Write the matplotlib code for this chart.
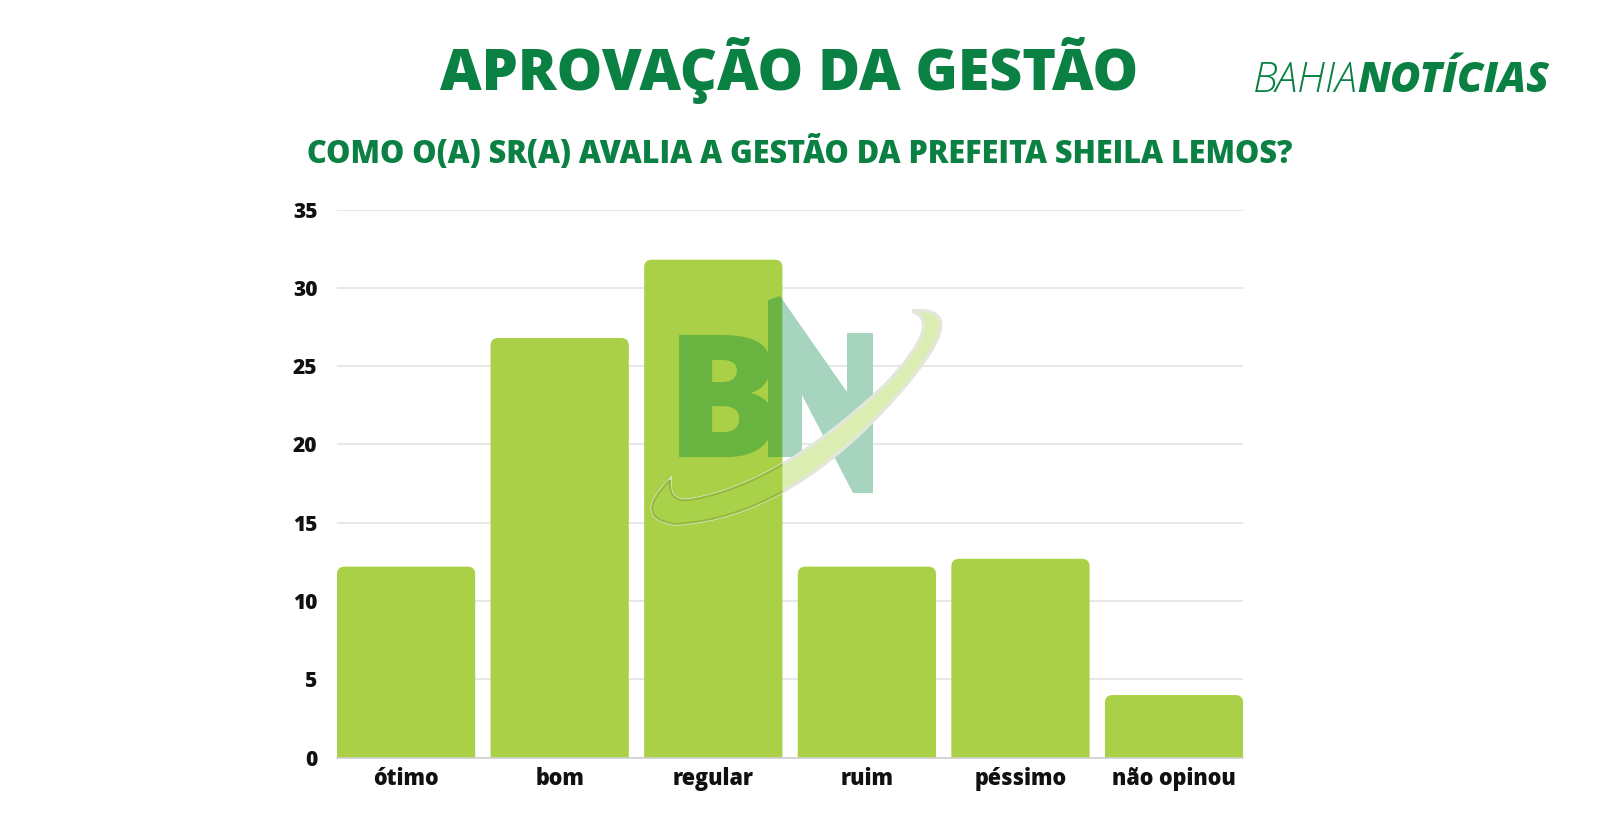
import numpy as np
import matplotlib.pyplot as plt
from matplotlib.patches import FancyBboxPatch, Polygon, PathPatch
from matplotlib.path import Path

# Data
categories = ['ótimo', 'bom', 'regular', 'ruim', 'péssimo', 'não opinou']
values = [12.2, 26.8, 31.8, 12.2, 12.7, 4.0]
yticks = [0, 5, 10, 15, 20, 25, 30, 35]

green = '#0a8043'
bar_color = '#a9d046'
W, H = 1600, 840

plt.rcParams['font.family'] = ['Open Sans', 'DejaVu Sans']

fig = plt.figure(figsize=(16, 8.4), dpi=100)
ax = fig.add_axes([0.2106, 0.098, 0.5664, 0.6525])

x = np.arange(len(categories))
bars = ax.bar(x, values, width=0.9, color=bar_color, zorder=2)

# rounded top corners: swap each rectangle for a rounded box of the same size
rounded = []
for b in bars:
    bx, by, bw, bh = b.get_x(), b.get_y(), b.get_width(), b.get_height()
    b.set_visible(False)
    rb = FancyBboxPatch((bx, by - 1), bw, bh + 1,
                        boxstyle='round,pad=0,rounding_size=0.05',
                        mutation_aspect=35 / 5.9 * 906 / 548,
                        facecolor=bar_color, edgecolor='none', zorder=2)
    ax.add_patch(rb)
    rounded.append(rb)

ax.set_xlim(-0.45, len(categories) - 0.55)
ax.set_ylim(0, 35)
ax.set_yticks(yticks)
ax.set_xticks(x)
ax.set_xticklabels(categories)
ax.grid(axis='y', color='#e3e3e3', linewidth=1.2, zorder=0)
ax.set_axisbelow(True)
for s in ['top', 'right', 'left']:
    ax.spines[s].set_visible(False)
ax.spines['bottom'].set_color('#cfcfcf')
ax.spines['bottom'].set_linewidth(1.2)
ax.spines['bottom'].set_zorder(3)
ax.tick_params(axis='both', length=0, colors='#111111')
ax.tick_params(axis='y', pad=14, labelsize=15)
ax.tick_params(axis='x', pad=7, labelsize=15.5)
for lab in ax.get_xticklabels() + ax.get_yticklabels():
    lab.set_fontweight('extra bold')

# titles
fig.text(0.493, 0.916, 'APROVAÇÃO DA GESTÃO', ha='center', va='center',
         fontsize=41.3, fontweight='extra bold', color=green)
fig.text(0.5, 0.817, 'COMO O(A) SR(A) AVALIA A GESTÃO DA PREFEITA SHEILA LEMOS?',
         ha='center', va='center', fontsize=22, fontweight='extra bold', color=green)

# brand logo top right
t1 = fig.text(0.783, 0.891, 'BAHIA', ha='left', va='baseline', fontsize=30,
              fontstyle='italic', fontweight='light', color=green)
fig.canvas.draw()
bb = t1.get_window_extent()
fig.text(bb.x1 / W, 0.891, 'NOTÍCIAS', ha='left', va='baseline', fontsize=30,
         fontstyle='italic', fontweight='extra bold', color=green)


# faded "BN" watermark (shapes given in figure pixels, y measured from the top)
def to_fig(pts):
    pts = np.asarray(pts, dtype=float)
    return np.column_stack([pts[:, 0] / W, 1 - pts[:, 1] / H])


fig.text(0.452, 1 - 457 / H, 'B', ha='center', va='baseline', fontsize=123,
         fontweight='extra bold', color='#69b340', zorder=5)

n_shape = [(768, 457), (768, 300), (780, 296), (847, 392), (847, 333), (873, 333),
           (873, 493), (853, 493), (802, 395), (802, 457)]
fig.patches.append(Polygon(to_fig(n_shape), closed=True, transform=fig.transFigure,
                           facecolor='#a7d4bf', edgecolor='none', zorder=5))
n_on_bar = Polygon(to_fig(n_shape), closed=True, transform=fig.transFigure,
                   facecolor='#6bb444', edgecolor='none', zorder=6)
n_on_bar.set_clip_path(rounded[2])
fig.patches.append(n_on_bar)

# swoosh around the letters
sw_verts = [(670, 480), (632, 518), (675, 524), (790, 518), (900, 392),
            (975, 305), (912, 311), (945, 322), (885, 385), (780, 485),
            (690, 500), (668, 503), (670, 480), (670, 480)]
sw_codes = [Path.MOVETO] + [Path.CURVE3] * 12 + [Path.CLOSEPOLY]
sw_path = Path(to_fig(sw_verts), sw_codes)
fig.patches.append(PathPatch(sw_path, transform=fig.transFigure, facecolor='#dcedb2',
                             edgecolor='#e3e7da', linewidth=2.5, zorder=7))
sw_on_bar = PathPatch(sw_path, transform=fig.transFigure, facecolor='#a9d24a',
                      edgecolor='#92bb3d', linewidth=1.5, zorder=8)
sw_on_bar.set_clip_path(rounded[2])
fig.patches.append(sw_on_bar)

fig.savefig('out.png', dpi=100, facecolor='white')
